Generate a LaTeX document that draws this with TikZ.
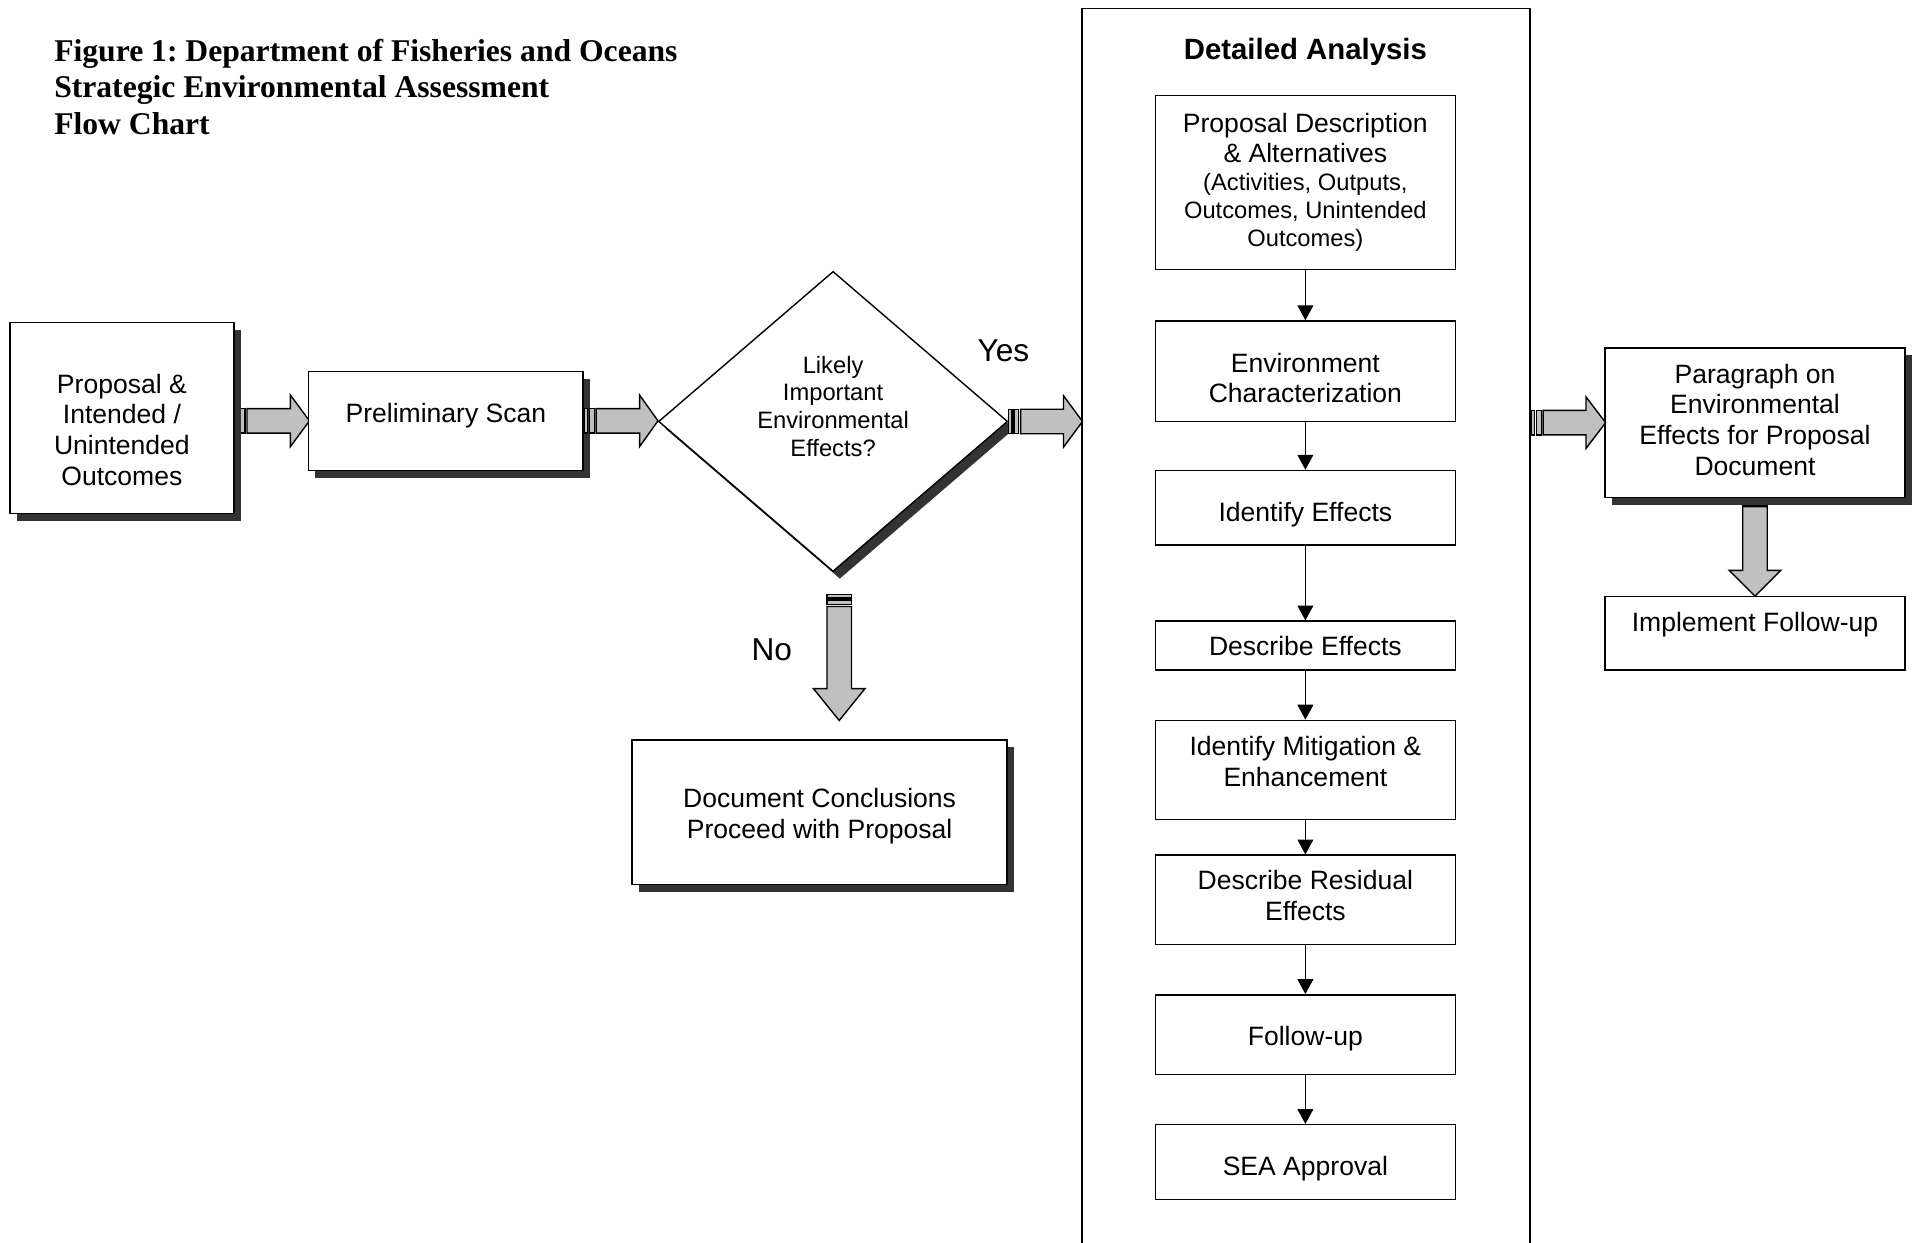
\documentclass[tikz,border=0pt]{standalone}
\usepackage{fontspec}
\setmainfont{Liberation Sans}
\newfontfamily\titlefont{Liberation Serif}
\usepackage{xcolor}
\usetikzlibrary{arrows.meta,positioning,calc,shapes.geometric,shadows}

\definecolor{shadowgray}{HTML}{333333}
\definecolor{arrowgray}{HTML}{C0C0C0}
\newcommand{\smallfnt}{\fontsize{13.5pt}{15.7pt}\selectfont}
\pgfdeclarelayer{back}
\pgfsetlayers{back,main}

\tikzset{
	box/.style={draw, line width=0.8pt, fill=white, inner sep=0pt, align=center,
		font=\fontsize{15.1pt}{17.4pt}\selectfont,
		execute at begin node={\rule{0pt}{11.5pt}},
		execute at end node={\rule[-3.5pt]{0pt}{3.5pt}}},
	boxsize/.style 2 args={minimum width=#1*0.245mm, minimum height=#2*0.245mm},
	textdown/.style={execute at begin node={\rule{0pt}{\dimexpr11.5pt+#1*2\relax}}},
	toptext/.style={execute at begin node={\rule{0pt}{#1}}},
	textup/.style={execute at end node={\rule[-\dimexpr3.5pt+#1*2\relax]{0pt}{\dimexpr3.5pt+#1*2\relax}}},
	shadowed/.style={drop shadow={shadow xshift=1.35mm, shadow yshift=-1.47mm, fill=shadowgray, opacity=1}},
	answer/.style={font=\fontsize{18pt}{21pt}\selectfont},
	figtitle/.style={anchor=north west, inner sep=0pt, align=left,
		font=\titlefont\bfseries\fontsize{18pt}{20.9pt}\selectfont\frenchspacing},
	flow/.style={line width=0.8pt, -{Triangle[length=8.5pt,width=9pt]}},
	fatarrow/.style={draw, line width=0.8pt, fill=arrowgray},
	pics/blockarrow/.style args={#1/#2}{code={
		\path[fatarrow] (0,-10) rectangle (3,10);
		\path[fatarrow] (4.5,-10) rectangle (8.5,10);
		\path[fatarrow] (10,-10) -- (#1-#2,-10) -- (#1-#2,-21) -- (#1,0)
			-- (#1-#2,21) -- (#1-#2,10) -- (10,10) -- cycle;
	}}
}

\begin{document}
\begin{tikzpicture}[x=0.245mm, y=-0.245mm]
	\useasboundingbox (0,0) rectangle (1568,1014);
	
	\node[figtitle] (title) at (44,31.5) {Figure 1: Department of Fisheries and Oceans\\ Strategic Environmental Assessment\\ Flow Chart};
	
	% screening
	\node[box, shadowed, boxsize={183}{156}, toptext=80pt] (prop) at (99.5,341) {Proposal \&\\ Intended /\\ Unintended\\ Outcomes};
	\node[box, shadowed, boxsize={224}{81}, textup=3.1pt] (scan) at (364,343.5) {Preliminary Scan};
	\node[box, shadowed, diamond, minimum width=285*0.245mm, minimum height=245*0.245mm, font=\smallfnt, textup=7pt] (dec) at (680,344) {Likely\\ Important\\ Environmental\\ Effects?};
	\node[answer] (yes) at (819,286) {Yes};
	\node[answer] (no) at (630,530) {No};
	\node[box, shadowed, boxsize={306}{118}, toptext=33.3pt] (doc) at (669,663) {Document Conclusions\\ Proceed with Proposal};
	
	% detailed analysis
	\node[draw, line width=0.8pt, boxsize={366}{1023}] (detail) at (1066,518.5) {};
	\node[font=\bfseries\fontsize{16.7pt}{19pt}\selectfont] (datitle) at (1065.5,42) {Detailed Analysis};
	\node[box, boxsize={245}{142}] (desc) at (1065.5,149) {Proposal Description\\ \& Alternatives\\[-1.4pt] {\smallfnt (Activities, Outputs,}\\[-1.7pt] {\smallfnt Outcomes, Unintended}\\[-1.7pt] {\smallfnt Outcomes)}};
	\node[box, boxsize={245}{82}, toptext=39.6pt] (envc) at (1065.5,303) {Environment\\ Characterization};
	\node[box, boxsize={245}{61}, textdown=3.8pt] (ident) at (1065.5,414.5) {Identify Effects};
	\node[box, boxsize={245}{40}, textdown=1.4pt] (descr) at (1065.5,527) {Describe Effects};
	\node[box, boxsize={245}{81}, textup=3.1pt] (mitig) at (1065.5,628.5) {Identify Mitigation \&\\ Enhancement};
	\node[box, boxsize={245}{73}, textup=0.7pt] (resid) at (1065.5,734.5) {Describe Residual\\ Effects};
	\node[box, boxsize={245}{65}, textdown=2.4pt] (follow) at (1065.5,844.5) {Follow-up};
	\node[box, boxsize={245}{61}, textdown=3.8pt] (sea) at (1065.5,948.5) {SEA Approval};
	
	\foreach \a/\b in {desc/envc, envc/ident, ident/descr, descr/mitig, mitig/resid, resid/follow, follow/sea}
		\draw[flow] (\a) -- (\b);
	
	% reporting
	\node[box, shadowed, boxsize={245}{122}] (para) at (1432.5,345) {Paragraph on\\ Environmental\\ Effects for Proposal\\ Document};
	\node[box, boxsize={245}{60}, textup=4.9pt] (impl) at (1432.5,517) {Implement Follow-up};
	
	% block arrows
	\begin{pgfonlayer}{back}
		\pic at (prop.east |- scan.east) {blockarrow=61/15.5};
		\pic[rotate=-90] at ($(para.south)+(0,-3)$) {blockarrow=83/21};
	\end{pgfonlayer}
	\pic at (scan.east) {blockarrow=60.5/15};
	\pic at (dec.east) {blockarrow=60.5/15.5};
	\pic at (detail.east |- para.east) {blockarrow=61/16};
	\pic[rotate=-90] at ($(dec.south)+(5,18)$) {blockarrow=103/26};
\end{tikzpicture}
\end{document}
